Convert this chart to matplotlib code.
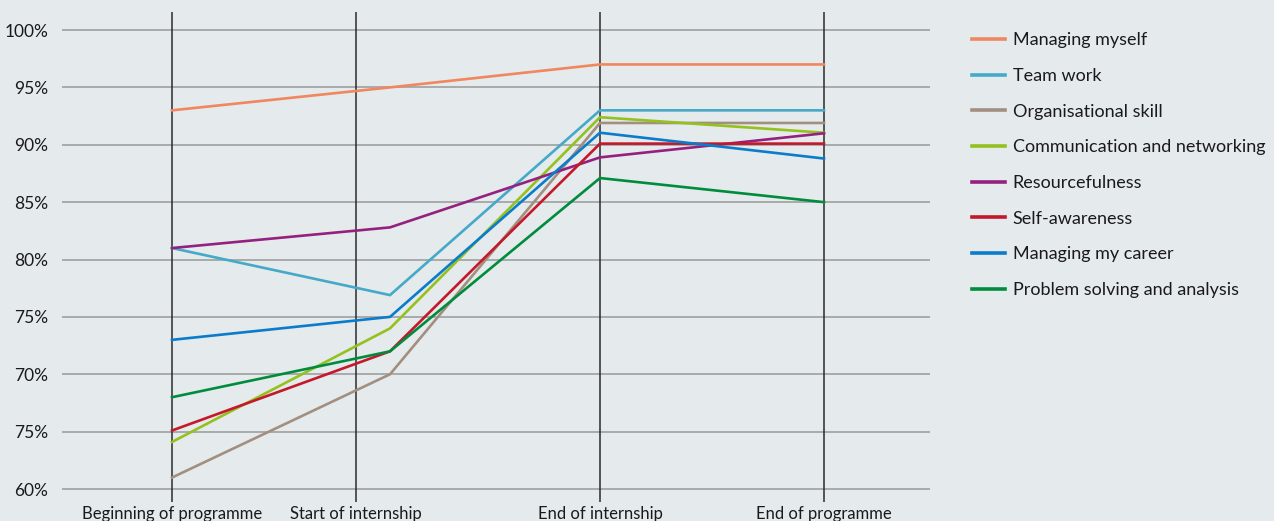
import matplotlib.pyplot as plt
import numpy as np

# stages of the programme (x labels)
stages = ['Beginning of programme', 'Start of internship',
          'End of internship', 'End of programme']
# where the stage rules sit on the timeline, and where the survey points were plotted
stage_pos = [0, 184, 428, 652]
point_pos = [0, 218, 428, 652]

# y ticks (the original repeats "75%" at the 65% line)
y_ticks = [100, 95, 90, 85, 80, 75, 70, 65, 60]
y_labels = ['100%', '95%', '90%', '85%', '80%', '75%', '70%', '75%', '60%']

skills = ['Managing myself', 'Team work', 'Organisational skill',
          'Communication and networking', 'Resourcefulness', 'Self-awareness',
          'Managing my career', 'Problem solving and analysis']

managing_myself = [93, 95, 97, 97]
team_work = [81, 76.9, 93, 93]
organisational = [61, 70, 91.9, 91.9]
communication = [64.1, 74, 92.4, 91.05]
resourcefulness = [81, 82.8, 88.9, 91]
self_awareness = [65.1, 72, 90.1, 90.1]
managing_career = [73, 75, 91.05, 88.8]
problem_solving = [68, 72, 87.1, 85]

values = [managing_myself, team_work, organisational, communication,
          resourcefulness, self_awareness, managing_career, problem_solving]
colors = ['#f0875f', '#45a9c8', '#a38f80', '#95c11f',
          '#94217f', '#c4182b', '#0a7ccb', '#008c3c']

BG = '#e5eaec'
plt.rcParams['font.family'] = ['Lato', 'DejaVu Sans']

fig = plt.figure(figsize=(12.74, 5.21), dpi=100, facecolor=BG)
ax = fig.add_axes([62 / 1274, 19 / 521, 868 / 1274, 490 / 521])
ax.set_facecolor(BG)

# horizontal guide lines
for t in y_ticks:
    ax.axhline(t, color='#a3a5a6', lw=1.3, zorder=1)
# vertical stage rules
for p in stage_pos:
    ax.axvline(p, color='#2b2b2b', lw=1.1, zorder=2)

for name, vals, c in zip(skills, values, colors):
    ax.plot(point_pos, vals, color=c, lw=1.9, label=name, zorder=3,
            solid_joinstyle='miter')

ax.set_xlim(-110, 758)
ax.set_ylim(58.87, 101.57)
ax.set_xticks(stage_pos)
ax.set_xticklabels(stages, fontsize=12, color='#1a1a1a')
ax.set_yticks(y_ticks)
ax.set_yticklabels(y_labels, fontsize=12.5, color='#1a1a1a')
ax.tick_params(length=0)
ax.tick_params(axis='x', pad=3)
ax.tick_params(axis='y', pad=10)
for s in ax.spines.values():
    s.set_visible(False)

leg = fig.legend(loc='upper left', bbox_to_anchor=(956 / 1274, 1 - 16 / 521),
                 frameon=False, fontsize=13, handlelength=1.83,
                 handletextpad=0.4, labelspacing=1.09)
for line in leg.get_lines():
    line.set_linewidth(2.6)
for txt in leg.get_texts():
    txt.set_color('#1a1a1a')

fig.savefig('out.png', dpi=100, facecolor=BG)
